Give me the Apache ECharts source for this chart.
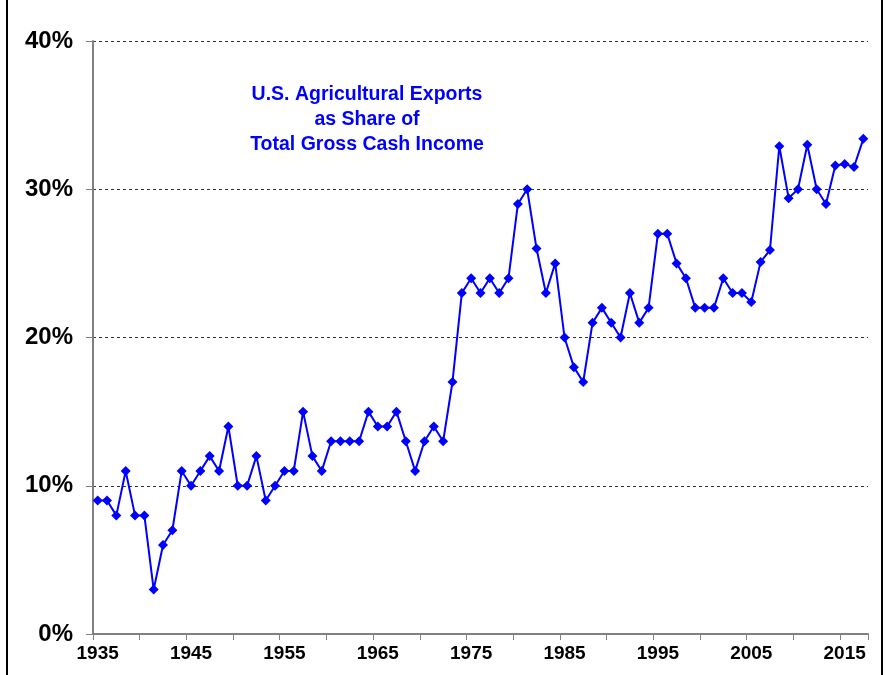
<!DOCTYPE html>
<html>
<head>
<meta charset="utf-8">
<script src="https://cdn.jsdelivr.net/npm/echarts@6/dist/echarts.min.js"></script>
<style>
html,body{margin:0;padding:0;background:#fff;}
#chart{width:887px;height:675px;}
</style>
</head>
<body>
<div id="chart"></div>
<script>
const years = [];
for (let y = 1935; y <= 2017; y++) years.push(String(y));

const exportShare = [
  9, 9, 8, 11, 8, 8, 3, 6, 7, 11,
  10, 11, 12, 11, 14, 10, 10, 12, 9, 10,
  11, 11, 15, 12, 11, 13, 13, 13, 13, 15,
  14, 14, 15, 13, 11, 13, 14, 13, 17, 23,
  24, 23, 24, 23, 24, 29, 30, 26, 23, 25,
  20, 18, 17, 21, 22, 21, 20, 23, 21, 22,
  27, 27, 25, 24, 22, 22, 22, 24, 23, 23,
  22.4, 25.1, 25.9, 32.9, 29.4, 30.0, 33.0, 30.0, 29.0, 31.6,
  31.7, 31.5, 33.4
];

const yTicks = [0, 10, 20, 30, 40];
const titleLines = ['U.S. Agricultural Exports', 'as Share of', 'Total Gross Cash Income'];

const chart = echarts.init(document.getElementById('chart'), null, {renderer: 'canvas'});
chart.setOption({
  animation: false,
  backgroundColor: '#ffffff',
  title: {
    text: titleLines.join('\n'),
    left: 362,
    top: 77,
    textAlign: 'center',
    textStyle: {
      color: '#0000ff',
      fontFamily: 'Liberation Sans, Arial, sans-serif',
      fontWeight: 'bold',
      fontSize: 19.5,
      lineHeight: 25
    }
  },
  graphic: [
    {type: 'line', shape: {x1: 7, y1: 0, x2: 7, y2: 675}, style: {stroke: '#000', lineWidth: 2}},
    {type: 'line', shape: {x1: 882, y1: 0, x2: 882, y2: 675}, style: {stroke: '#000', lineWidth: 2}}
  ],
  grid: {left: 93, right: 19, top: 41, bottom: 41, containLabel: false},
  xAxis: {
    type: 'category',
    data: years,
    boundaryGap: true,
    axisLine: {lineStyle: {color: '#808080', width: 2}},
    axisTick: {show: true, interval: 4, length: 6, lineStyle: {color: '#808080', width: 1}},
    axisLabel: {
      interval: 9,
      margin: 10,
      color: '#000',
      fontFamily: 'Liberation Sans Narrow, Arial Narrow, Liberation Sans, sans-serif',
      fontWeight: 'bold',
      fontSize: 19
    },
    splitLine: {show: false}
  },
  yAxis: {
    type: 'value',
    min: yTicks[0],
    max: yTicks[yTicks.length - 1],
    interval: 10,
    axisLine: {show: true, lineStyle: {color: '#808080', width: 2}},
    axisTick: {show: true, length: 7, lineStyle: {color: '#808080', width: 1}},
    axisLabel: {
      formatter: '{value}%',
      margin: 20,
      color: '#000',
      fontFamily: 'Liberation Sans, Arial, sans-serif',
      fontWeight: 'bold',
      fontSize: 24
    },
    splitLine: {show: true, lineStyle: {color: '#333', type: [3, 3], width: 1}}
  },
  series: [{
    type: 'line',
    data: exportShare,
    symbol: 'diamond',
    symbolSize: 10,
    showAllSymbol: true,
    lineStyle: {color: '#0000ff', width: 2},
    itemStyle: {color: '#0000ff'}
  }]
});
</script>
</body>
</html>
